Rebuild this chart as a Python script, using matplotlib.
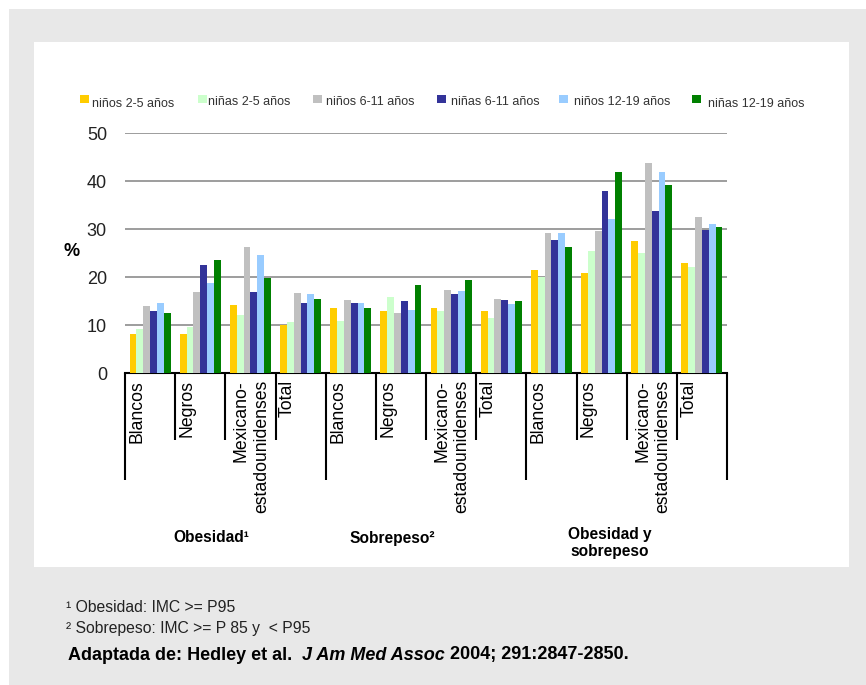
import numpy as np
import matplotlib.pyplot as plt
from matplotlib.patches import Rectangle

plt.rcParams['font.family'] = ['Liberation Sans', 'DejaVu Sans']

# data (percent)
series = ['niños 2-5 años', 'niñas 2-5 años', 'niños 6-11 años',
          'niñas 6-11 años', 'niños 12-19 años', 'niñas 12-19 años']
colors = ['#FFCC00', '#CCFFCC', '#C0C0C0', '#333399', '#99CCFF', '#008000']
subgroups = ['Blancos', 'Negros', 'Mexicano-\nestadounidenses', 'Total']
groups = ['Obesidad¹', 'Sobrepeso²', 'Obesidad y\nsobrepeso']

ninos_2_5 = [8.1, 8.1, 14.2, 9.9, 13.5, 12.9, 13.5, 12.9, 21.5, 20.8, 27.5, 22.9]
ninas_2_5 = [9.2, 9.6, 12.1, 10.7, 10.8, 15.8, 12.9, 11.5, 20.0, 25.4, 24.9, 22.1]
ninos_6_11 = [14.0, 16.9, 26.3, 16.7, 15.2, 12.5, 17.3, 15.4, 29.2, 29.6, 43.8, 32.5]
ninas_6_11 = [12.9, 22.5, 16.9, 14.6, 14.5, 15.0, 16.5, 15.2, 27.7, 38.0, 33.8, 29.8]
ninos_12_19 = [14.6, 18.8, 24.6, 16.5, 14.5, 13.1, 17.1, 14.4, 29.2, 32.1, 41.9, 31.0]
ninas_12_19 = [12.5, 23.6, 19.8, 15.4, 13.5, 18.3, 19.4, 15.0, 26.3, 41.9, 39.2, 30.4]
values = [ninos_2_5, ninas_2_5, ninos_6_11, ninas_6_11, ninos_12_19, ninas_12_19]

W, H = 866, 685
fig = plt.figure(figsize=(W / 100, H / 100), dpi=100)


def fx(px):
    return px / W


def fy(py):
    return 1 - py / H


# grey frame and white panel
fig.patches.append(Rectangle((fx(9), 0), 1, fy(9), transform=fig.transFigure,
                             facecolor='#E8E8E8', edgecolor='none', zorder=-10))
fig.patches.append(Rectangle((fx(34), fy(567)), fx(849 - 34), (567 - 42) / H,
                             transform=fig.transFigure, facecolor='white',
                             edgecolor='none', zorder=-9))

ax = fig.add_axes([fx(125), fy(373), fx(602), 240 / H])
ax.set_facecolor('none')

n = len(ninos_2_5)
x = np.arange(n)
bw = 0.136
for k, (vals, c) in enumerate(zip(values, colors)):
    ax.bar(x + (k - 2.5) * bw, vals, width=bw, color=c, edgecolor='none', zorder=3)

ax.set_xlim(-0.5, n - 0.5)
ax.set_ylim(0, 50)
ax.set_yticks(range(0, 51, 10))
ax.yaxis.grid(True, color='#8C8C8C', lw=1.2)
ax.set_axisbelow(True)
ax.tick_params(axis='y', length=0, pad=13, labelsize=13, labelcolor='#222222')
ax.set_xticks([])
for s in ['left', 'right', 'top']:
    ax.spines[s].set_visible(False)
ax.spines['bottom'].set_linewidth(1.5)
ax.spines['bottom'].set_color('black')

# category labels and separator lines
tr = ax.get_xaxis_transform()
cell = 602 / n
for i in range(n):
    lab = subgroups[i % 4]
    nl = lab.count('\n') + 1
    xl = i - 0.5 + (12 + 14 * (nl - 1)) / cell
    ax.text(xl, -7 / 240, lab, transform=tr, rotation=90, rotation_mode='anchor',
            ha='right', va='center', multialignment='right', fontsize=12.7,
            linespacing=1.25, color='black')
for i in range(n + 1):
    depth = 107 if i % 4 == 0 else 67
    ax.plot([i - 0.5, i - 0.5], [0, -depth / 240], transform=tr, color='black',
            lw=1.5, clip_on=False, solid_capstyle='butt')

# group labels
for lab, (gx, gy) in zip(groups, [(211, 538), (392, 538), (610, 543)]):
    fig.text(fx(gx), fy(gy), lab, ha='center', va='center', fontsize=11.2,
             fontweight='bold', linespacing=1.2)

fig.text(fx(72), fy(252), '%', ha='center', va='center', fontsize=13,
         fontweight='bold')

# legend
sq_x = [80, 198, 313, 437, 559, 692]
tx_x = [92, 208, 326, 451, 574, 708]
tx_y = [104, 102, 102, 102, 102, 104]
for sx, tx, ty, c, lab in zip(sq_x, tx_x, tx_y, colors, series):
    fig.patches.append(Rectangle((fx(sx), fy(103)), fx(9), 8 / H,
                                 transform=fig.transFigure, facecolor=c,
                                 edgecolor='none'))
    fig.text(fx(tx), fy(ty), lab, ha='left', va='center', fontsize=9.0,
             color='#333333')

# footnotes
fig.text(fx(66), fy(607), '¹ Obesidad: IMC >= P95', ha='left', va='center',
         fontsize=11.3, color='#222222')
fig.text(fx(66), fy(629), '² Sobrepeso: IMC >= P 85 y  < P95', ha='left',
         va='center', fontsize=11.3, color='#222222')

renderer = fig.canvas.get_renderer()
pieces = [('Adaptada de: Hedley et al.  ', 'normal'),
          ('J Am Med Assoc', 'italic'),
          (' 2004; 291:2847-2850.', 'normal')]
xpos = 68
for txt, style in pieces:
    t = fig.text(fx(xpos), fy(655), txt, ha='left', va='center', fontsize=13.0,
                 fontweight='bold', fontstyle=style, color='black')
    xpos += t.get_window_extent(renderer).width

fig.savefig('out.png', dpi=100)
